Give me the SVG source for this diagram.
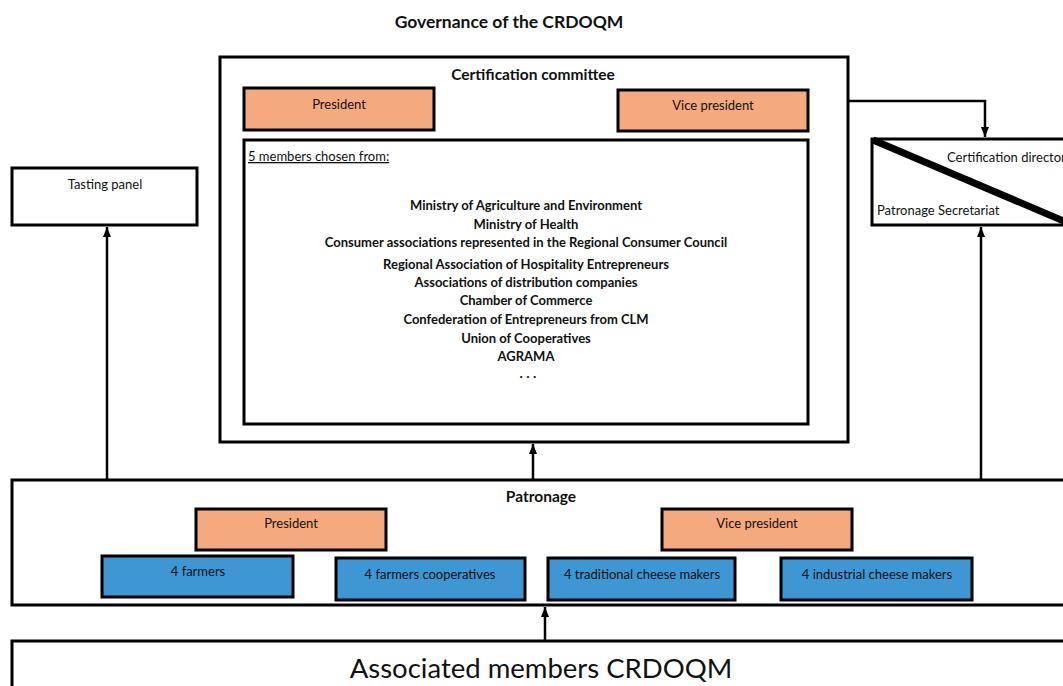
<svg xmlns="http://www.w3.org/2000/svg" width="1063" height="686" viewBox="0 0 1063 686">
<defs>
<marker id="ah" viewBox="0 0 10 10" refX="10" refY="5" markerWidth="4" markerHeight="4" orient="auto-start-reverse" markerUnits="strokeWidth"><path d="M0,1 L10,5 L0,9 z" fill="#000"/></marker>
<style>
text{font-family:Lato,"Liberation Sans",sans-serif;fill:#111;}
.t{font-size:13px;text-anchor:middle;}
.b{font-weight:bold;}
.box{fill:#fff;stroke:#000;stroke-width:3;}
.or{fill:#F5A97F;stroke:#000;stroke-width:3;}
.bl{fill:#3E97D3;stroke:#000;stroke-width:3;}
.ln{fill:none;stroke:#000;stroke-width:2.5;}
</style>
</defs>
<rect width="1063" height="686" fill="#fff"/>
<text x="509" y="28" class="t b" style="font-size:17.5px">Governance of the CRDOQM</text>

<g id="certification-committee">
<rect x="220" y="57" width="628" height="385" class="box"/>
<text x="533" y="80" class="t b" style="font-size:15.5px">Certification committee</text>
</g>
<g id="cc-president"><rect x="244" y="88" width="190" height="42" class="or"/><text x="339" y="109" class="t">President</text></g>
<g id="cc-vice-president"><rect x="618" y="90" width="190" height="41" class="or"/><text x="713" y="110" class="t">Vice president</text></g>
<g id="cc-members">
<rect x="244" y="140" width="564" height="284" class="box"/>
<text x="248" y="161" style="font-size:13px;text-decoration:underline">5 members chosen from:</text>
<g class="t b">
<text x="526" y="210">Ministry of Agriculture and Environment</text>
<text x="526" y="229">Ministry of Health</text>
<text x="526" y="247">Consumer associations represented in the Regional Consumer Council</text>
<text x="526" y="269">Regional Association of Hospitality Entrepreneurs</text>
<text x="526" y="287">Associations of distribution companies</text>
<text x="526" y="305">Chamber of Commerce</text>
<text x="526" y="324">Confederation of Entrepreneurs from CLM</text>
<text x="526" y="343">Union of Cooperatives</text>
<text x="526" y="361">AGRAMA</text>
<text x="528" y="378" style="font-size:14px">. . .</text>
</g>
</g>

<g id="tasting-panel"><rect x="12" y="168" width="185" height="57" class="box"/><text x="105" y="189" class="t">Tasting panel</text></g>

<g id="certification-director">
<rect x="872" y="139" width="200" height="86" class="box"/>
<line x1="873" y1="140" x2="1066" y2="222" stroke="#000" stroke-width="7"/>
<text x="947" y="162" style="font-size:13px">Certification director</text>
<text x="877" y="215" style="font-size:13px">Patronage Secretariat</text>
</g>

<g id="patronage">
<rect x="12" y="480" width="1060" height="125" class="box"/>
<text x="541" y="502" class="t b" style="font-size:15.5px">Patronage</text>
</g>
<g id="p-president"><rect x="196" y="509" width="190" height="41" class="or"/><text x="291" y="528" class="t">President</text></g>
<g id="p-vice-president"><rect x="662" y="509" width="190" height="41" class="or"/><text x="757" y="528" class="t">Vice president</text></g>
<g id="farmers"><rect x="102" y="556" width="191" height="41" class="bl"/><text x="198" y="576" class="t">4 farmers</text></g>
<g id="cooperatives"><rect x="336" y="558" width="189" height="42" class="bl"/><text x="430" y="579" class="t">4 farmers cooperatives</text></g>
<g id="traditional"><rect x="548" y="558" width="187" height="42" class="bl"/><text x="642" y="579" class="t">4 traditional cheese makers</text></g>
<g id="industrial"><rect x="781" y="558" width="191" height="42" class="bl"/><text x="877" y="579" class="t">4 industrial cheese makers</text></g>

<g id="associated-members">
<rect x="12" y="641" width="1060" height="60" class="box"/>
<text x="541" y="678" class="t" style="font-size:27.5px">Associated members CRDOQM</text>
</g>

<g id="connectors">
<path d="M848,101 H985 V137" class="ln" marker-end="url(#ah)"/>
<path d="M107,479 V227" class="ln" marker-end="url(#ah)"/>
<path d="M533,479 V444" class="ln" marker-end="url(#ah)"/>
<path d="M981,479 V227" class="ln" marker-end="url(#ah)"/>
<path d="M545,640 V607" class="ln" marker-end="url(#ah)"/>
</g>
</svg>
